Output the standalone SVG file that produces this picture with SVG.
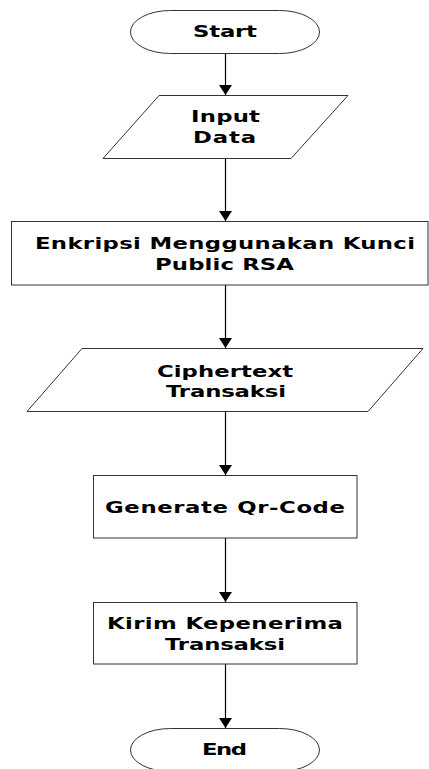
<svg xmlns="http://www.w3.org/2000/svg" width="429" height="769" viewBox="0 0 429 769">
<style>
.s{fill:#fff;stroke:#333;stroke-width:1}
.t{font-family:"DejaVu Sans","Liberation Sans",sans-serif;font-weight:bold;font-size:16.5px;fill:#000;text-anchor:middle}
.c{stroke:#000;stroke-width:1.2;fill:none}
</style>
<defs>
<marker id="ah" markerUnits="userSpaceOnUse" markerWidth="10" markerHeight="13" refX="10" refY="6.5" orient="auto">
<path d="M0,0 L10,6.5 L0,13 z" fill="#000"/>
</marker>
</defs>
<rect width="429" height="769" fill="#fff"/>
<g id="connectors">
<line class="c" x1="225.5" y1="53" x2="225.5" y2="95" marker-end="url(#ah)"/>
<line class="c" x1="225.5" y1="158" x2="225.5" y2="221" marker-end="url(#ah)"/>
<line class="c" x1="225.5" y1="285" x2="225.5" y2="348" marker-end="url(#ah)"/>
<line class="c" x1="225.5" y1="411" x2="225.5" y2="475" marker-end="url(#ah)"/>
<line class="c" x1="225.5" y1="538" x2="225.5" y2="602" marker-end="url(#ah)"/>
<line class="c" x1="225.5" y1="664" x2="225.5" y2="728" marker-end="url(#ah)"/>
</g>
<g id="start">
<rect class="s" x="130.5" y="10.5" width="189" height="43" rx="40" ry="21.5"/>
<g transform="translate(225 0) scale(1.38 1)"><text class="t" x="0" y="37" textLength="46.4" lengthAdjust="spacing">Start</text></g>
</g>
<g id="input">
<polygon class="s" points="159,95.5 348,95.5 291,158.5 103,158.5"/>
<g transform="translate(225.5 0) scale(1.38 1)"><text class="t" x="0" y="122" textLength="50" lengthAdjust="spacing">Input</text></g>
<g transform="translate(224.5 0) scale(1.38 1)"><text class="t" x="0" y="143" textLength="45.7" lengthAdjust="spacing">Data</text></g>
</g>
<g id="enkripsi">
<rect class="s" x="11.5" y="221.5" width="416.5" height="63.5"/>
<g transform="translate(225 0) scale(1.38 1)"><text class="t" x="0" y="249" textLength="275.4" lengthAdjust="spacing">Enkripsi Menggunakan Kunci</text></g>
<g transform="translate(224.5 0) scale(1.38 1)"><text class="t" x="0" y="270" textLength="100.7" lengthAdjust="spacing">Public RSA</text></g>
</g>
<g id="ciphertext">
<polygon class="s" points="82,348.5 423,348.5 368,411.5 27,411.5"/>
<g transform="translate(225 0) scale(1.38 1)"><text class="t" x="0" y="377" textLength="98.6" lengthAdjust="spacing">Ciphertext</text></g>
<g transform="translate(226 0) scale(1.38 1)"><text class="t" x="0" y="397" textLength="87" lengthAdjust="spacing">Transaksi</text></g>
</g>
<g id="generate">
<rect class="s" x="93.5" y="475.5" width="263.5" height="62.5"/>
<g transform="translate(225 0) scale(1.38 1)"><text class="t" x="0" y="513" textLength="173.9" lengthAdjust="spacing">Generate Qr-Code</text></g>
</g>
<g id="kirim">
<rect class="s" x="93.5" y="602.5" width="263.5" height="61.5"/>
<g transform="translate(225 0) scale(1.38 1)"><text class="t" x="0" y="629" textLength="171" lengthAdjust="spacing">Kirim Kepenerima</text></g>
<g transform="translate(225 0) scale(1.38 1)"><text class="t" x="0" y="650" textLength="87" lengthAdjust="spacing">Transaksi</text></g>
</g>
<g id="end">
<rect class="s" x="130.5" y="728.5" width="189" height="43" rx="40" ry="21.5"/>
<g transform="translate(224.5 0) scale(1.38 1)"><text class="t" x="0" y="755" textLength="32.6" lengthAdjust="spacing">End</text></g>
</g>
</svg>
